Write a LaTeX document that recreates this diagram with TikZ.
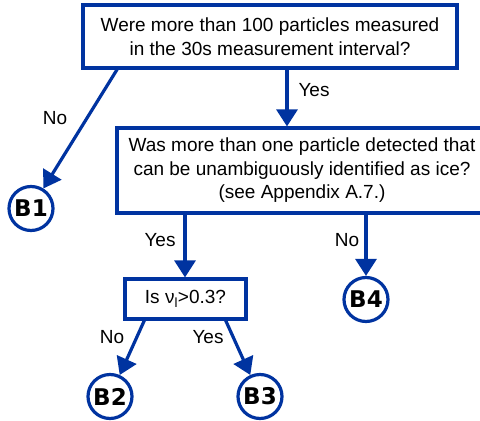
\documentclass[tikz,border=0pt]{standalone}
\usepackage{fontspec}
\setmainfont{Liberation Sans}
\newfontfamily\circlefont{DejaVu Sans}
\usetikzlibrary{arrows.meta}
\definecolor{flowblue}{RGB}{0,51,160}

\begin{document}
\begin{tikzpicture}[x=1pt, y=-1pt, font=\fontsize{19}{23.5}\selectfont,
  question/.style={draw=flowblue, line width=3.2pt, align=center, inner sep=0pt},
  result/.style={draw=flowblue, line width=3.2pt, circle, minimum size=44pt, inner sep=0pt, font=\circlefont\bfseries\fontsize{23}{23}\selectfont},
  flow/.style={flowblue, line width=3.2pt, -{Triangle[length=17pt, width=21pt]}},
  answer/.style={font=\fontsize{19}{20}\selectfont}]
  \useasboundingbox (0,0) rectangle (480,421);
  % questions
  \node[question, minimum width=374pt, minimum height=63pt] (q1) at (270,36.5)
    {Were more than 100 particles measured\\in the 30s measurement interval?};
  \node[question, minimum width=370pt, minimum height=85pt] (q2) at (302,170.5)
    {Was more than one particle detected that\\can be unambiguously identified as ice?\\(see Appendix A.7.)};
  \node[question, minimum width=121pt, minimum height=40pt] (q3) at (185.5,299)
    {Is ν\textsubscript{l}>0.3?};
  % results
  \node[result] (b1) at (31,208.5) {B1};
  \node[result] (b2) at (110,396.5) {B2};
  \node[result] (b3) at (260,396.5) {B3};
  \node[result] (b4) at (366,299.5) {B4};
  % connectors
  \coordinate (s1) at (118,68);
  \coordinate (s2) at (287,68);
  \coordinate (s3) at (185,213);
  \coordinate (s4) at (366,213);
  \coordinate (s5) at (145,319);
  \coordinate (s6) at (225,319);
  \draw[flow] (s1) -- (b1);
  \draw[flow] (s2) -- (s2 |- q2.north);
  \draw[flow] (s3) -- (s3 |- q3.north);
  \draw[flow] (s4) -- (b4);
  \draw[flow] (s5) -- (b2);
  \draw[flow] (s6) -- (b3);
  % answers
  \node[answer] (a1) at (55,118) {No};
  \node[answer] (a2) at (314,90) {Yes};
  \node[answer] (a3) at (160,240) {Yes};
  \node[answer] (a4) at (347,240) {No};
  \node[answer] (a5) at (112,337) {No};
  \node[answer] (a6) at (208,337) {Yes};
\end{tikzpicture}
\end{document}
